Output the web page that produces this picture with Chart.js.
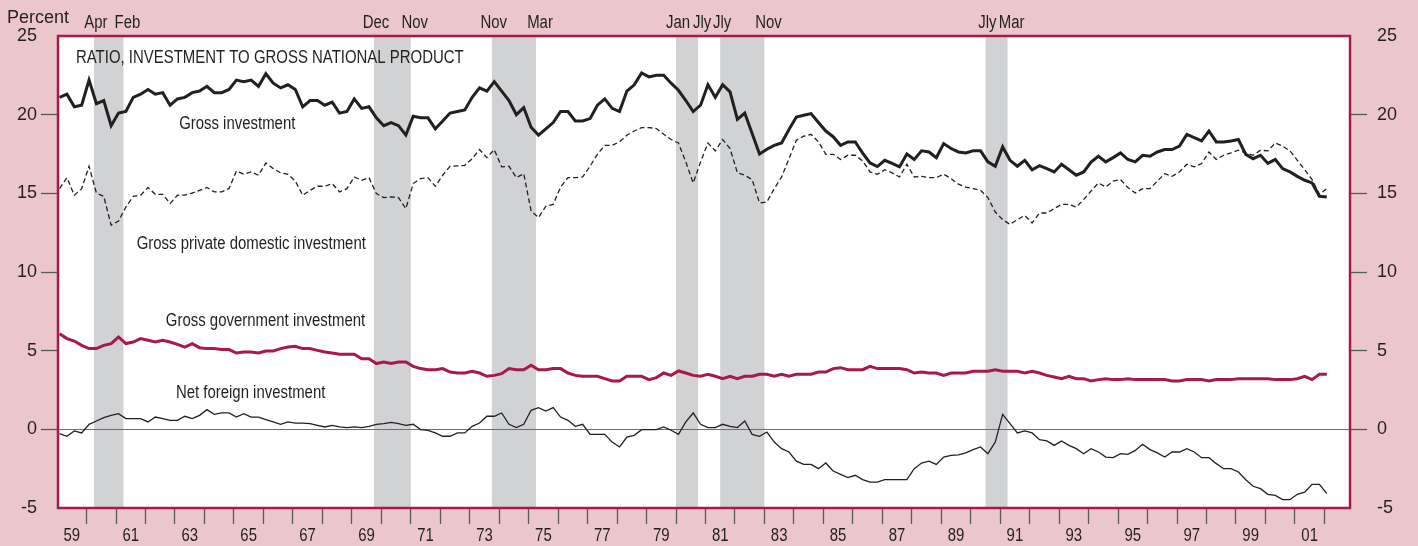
<!DOCTYPE html>
<html>
<head>
<meta charset="utf-8">
<title>Ratio, investment to gross national product</title>
<script src="https://cdn.jsdelivr.net/npm/chart.js@4.4.1/dist/chart.umd.min.js"></script>
<style>
  html, body { margin: 0; padding: 0; background: #ebc7cc; }
  #wrap { width: 1418px; height: 546px; }
</style>
</head>
<body>
<div id="wrap"><canvas id="chart" width="1418" height="546"></canvas></div>
<script>
// Quarterly ratios to GNP, percent, 1959:I through 2002:I
const startYear = 1959;

const grossInvestment = [
  21.1, 21.3, 20.5, 20.6, 22.2, 20.7, 20.9, 19.3, 20.1, 20.2,
  21.1, 21.3, 21.6, 21.3, 21.4, 20.6, 21.0, 21.1, 21.4, 21.5,
  21.8, 21.4, 21.4, 21.6, 22.2, 22.1, 22.2, 21.8, 22.6, 22.0,
  21.7, 21.9, 21.6, 20.5, 20.9, 20.9, 20.6, 20.8, 20.1, 20.2,
  21.0, 20.4, 20.5, 19.8, 19.3, 19.5, 19.3, 18.7, 19.9, 19.8,
  19.8, 19.1, 19.6, 20.1, 20.2, 20.3, 21.1, 21.7, 21.5, 22.1,
  21.5, 20.9, 20.0, 20.45, 19.2, 18.7, 19.1, 19.5, 20.2, 20.2,
  19.6, 19.6, 19.75, 20.6, 21.0, 20.4, 20.2, 21.5, 21.9, 22.65,
  22.4, 22.5, 22.5, 22.0, 21.55, 20.9, 20.2, 20.6, 21.9, 21.1,
  21.9, 21.45, 19.7, 20.1, 18.8, 17.5, 17.8, 18.05, 18.2, 19.05,
  19.85, 19.96, 20.07, 19.5, 18.96, 18.6, 18.05, 18.27, 18.27, 17.56,
  16.93, 16.7, 17.1, 16.9, 16.68, 17.5, 17.15, 17.7, 17.63, 17.27,
  18.16, 17.85, 17.63, 17.57, 17.7, 17.7, 17.0, 16.72, 17.95, 17.1,
  16.72, 17.1, 16.5, 16.76, 16.57, 16.36, 16.85, 16.5, 16.15, 16.36,
  16.99, 17.36, 17.0, 17.27, 17.57, 17.15, 17.0, 17.42, 17.36, 17.63,
  17.78, 17.78, 18.0, 18.75, 18.54, 18.33, 18.96, 18.27, 18.27, 18.33,
  18.42, 17.48, 17.2, 17.42, 16.9, 17.15, 16.57, 16.36, 16.08, 15.83,
  15.66, 14.81, 14.77
];

const grossPrivateDomestic = [
  15.3, 16.0, 14.88, 15.3, 16.72, 15.02, 14.81, 12.97, 13.24, 14.13,
  14.81, 14.88, 15.37, 14.94, 14.94, 14.35, 14.88, 14.88, 15.02, 15.19,
  15.37, 15.09, 15.09, 15.3, 16.42, 16.21, 16.36, 16.15, 16.93, 16.57,
  16.3, 16.21, 15.78, 14.88, 15.19, 15.45, 15.45, 15.62, 15.09, 15.3,
  16.04, 15.83, 16.0, 14.98, 14.73, 14.77, 14.73, 14.03, 15.62, 15.94,
  16.0, 15.45, 16.15, 16.72, 16.75, 16.78, 17.2, 17.78, 17.27, 17.78,
  16.68, 16.72, 16.0, 16.25, 13.88, 13.46, 14.18, 14.3, 15.4, 16.0,
  16.0, 16.04, 16.72, 17.48, 18.05, 18.05, 18.27, 18.69, 18.96, 19.18,
  19.18, 19.12, 18.75, 18.42, 18.2, 16.99, 15.66, 16.99, 18.2, 17.7,
  18.42, 17.85, 16.3, 16.15, 15.87, 14.39, 14.45, 15.3, 16.04, 17.2,
  18.37, 18.63, 18.75, 18.27, 17.48, 17.48, 17.15, 17.42, 17.42, 17.06,
  16.36, 16.21, 16.5, 16.3, 16.04, 16.85, 16.04, 16.08, 16.0, 16.0,
  16.21, 15.94, 15.58, 15.4, 15.3, 15.19, 14.73, 13.81, 13.33, 13.03,
  13.33, 13.6, 13.12, 13.75, 13.75, 14.03, 14.3, 14.3, 14.13, 14.6,
  15.15, 15.66, 15.4, 15.78, 15.87, 15.37, 15.02, 15.3, 15.3, 15.78,
  16.25, 16.08, 16.36, 16.85, 16.68, 16.89, 17.63, 17.15, 17.42, 17.57,
  17.74, 17.57, 17.42, 17.74, 17.7, 18.2, 18.0, 17.7, 17.1, 16.5,
  15.87, 14.94, 15.3
];

const grossGovernment = [
  6.08, 5.77, 5.61, 5.34, 5.13, 5.13, 5.34, 5.45, 5.87, 5.45,
  5.55, 5.77, 5.66, 5.55, 5.66, 5.55, 5.4, 5.23, 5.45, 5.19,
  5.13, 5.13, 5.07, 5.07, 4.85, 4.91, 4.91, 4.85, 4.98, 4.98,
  5.13, 5.23, 5.28, 5.13, 5.13, 5.02, 4.91, 4.85, 4.77, 4.77,
  4.77, 4.49, 4.49, 4.18, 4.28, 4.18, 4.28, 4.28, 4.0, 3.86,
  3.79, 3.79, 3.86, 3.64, 3.58, 3.58, 3.69, 3.58, 3.37, 3.43,
  3.54, 3.86, 3.79, 3.79, 4.07, 3.79, 3.79, 3.86, 3.86, 3.58,
  3.43, 3.37, 3.37, 3.37, 3.22, 3.07, 3.07, 3.37, 3.37, 3.37,
  3.16, 3.29, 3.58, 3.43, 3.71, 3.58, 3.43, 3.37, 3.5, 3.37,
  3.22, 3.37, 3.22, 3.37, 3.37, 3.5, 3.5, 3.37, 3.5, 3.37,
  3.5, 3.5, 3.5, 3.64, 3.64, 3.86, 3.92, 3.79, 3.79, 3.79,
  4.0, 3.86, 3.86, 3.86, 3.86, 3.79, 3.58, 3.64, 3.58, 3.58,
  3.43, 3.58, 3.58, 3.58, 3.69, 3.69, 3.69, 3.79, 3.69, 3.69,
  3.69, 3.58, 3.69, 3.58, 3.43, 3.33, 3.22, 3.37, 3.22, 3.22,
  3.07, 3.16, 3.22, 3.16, 3.16, 3.22, 3.16, 3.16, 3.16, 3.16,
  3.16, 3.07, 3.07, 3.16, 3.16, 3.16, 3.07, 3.16, 3.16, 3.16,
  3.22, 3.22, 3.22, 3.22, 3.22, 3.16, 3.16, 3.16, 3.22, 3.37,
  3.16, 3.5, 3.5
];

const netForeign = [
  -0.27, -0.44, -0.1, -0.23, 0.32, 0.53, 0.74, 0.89, 1.0, 0.68,
  0.68, 0.68, 0.47, 0.78, 0.68, 0.57, 0.57, 0.83, 0.68, 0.89,
  1.25, 0.95, 1.04, 1.04, 0.78, 1.0, 0.78, 0.78, 0.62, 0.47,
  0.32, 0.47, 0.4, 0.4, 0.36, 0.25, 0.15, 0.25, 0.15, 0.11,
  0.15, 0.11, 0.19, 0.32, 0.36, 0.44, 0.36, 0.25, 0.32, -0.02,
  -0.06, -0.23, -0.44, -0.44, -0.23, -0.23, 0.19, 0.4, 0.83, 0.83,
  1.04, 0.32, 0.11, 0.32, 1.21, 1.38, 1.16, 1.38, 0.78, 0.57,
  0.19, 0.32, -0.32, -0.32, -0.32, -0.81, -1.12, -0.49, -0.38, -0.02,
  -0.02, -0.02, 0.15, -0.06, -0.32, 0.47, 1.04, 0.32, 0.11, 0.11,
  0.32, 0.19, 0.11, 0.53, -0.32, -0.44, -0.17, -0.81, -1.23, -1.44,
  -2.02, -2.23, -2.23, -2.5, -2.14, -2.65, -2.86, -3.07, -2.92, -3.2,
  -3.35, -3.35, -3.2, -3.2, -3.2, -3.2, -2.5, -2.14, -2.02, -2.23,
  -1.76, -1.65, -1.62, -1.5, -1.29, -1.12, -1.55, -0.81, 0.95, 0.36,
  -0.23, -0.1, -0.23, -0.66, -0.74, -1.02, -0.74, -1.02, -1.23, -1.55,
  -1.23, -1.44, -1.76, -1.8, -1.55, -1.59, -1.34, -0.95, -1.29, -1.5,
  -1.76, -1.44, -1.44, -1.23, -1.44, -1.8, -1.8, -2.18, -2.5, -2.5,
  -2.71, -3.2, -3.62, -3.77, -4.13, -4.2, -4.47, -4.47, -4.13, -3.99,
  -3.5, -3.5, -4.09
];

// recessions: start of peak quarter, end of trough quarter, with month tags
const recessionStart = [1960.25, 1969.75, 1973.75, 1980.0, 1981.5, 1990.5];
const recessionEnd = [1961.25, 1971.0, 1975.25, 1980.75, 1983.0, 1991.25];
const peakMonths = ['Apr', 'Dec', 'Nov', 'Jan', 'Jly', 'Jly'];
const troughMonths = ['Feb', 'Nov', 'Mar', 'Jly', 'Nov', 'Mar'];

// axis ticks
const yTicks = [25, 20, 15, 10, 5, 0, -5];
const labelYears = [1959, 1961, 1963, 1965, 1967, 1969, 1971, 1973, 1975, 1977, 1979,
  1981, 1983, 1985, 1987, 1989, 1991, 1993, 1995, 1997, 1999, 2001];
const yearLabels = ['59', '61', '63', '65', '67', '69', '71', '73', '75', '77', '79',
  '81', '83', '85', '87', '89', '91', '93', '95', '97', '99', '01'];

// one tick per year, centred in the year; grid offset puts the marks on year boundaries
const yearCentres = [];
for (let y = 1959; y <= 2001; y++) yearCentres.push(y + 0.5);

// quarter dates
const quarters = grossInvestment.map((_, i) => startYear + i / 4 + 1 / 12);

const REGULAR = "'Liberation Sans', Arial, sans-serif";
const INK = '#231f20';
const TICK = '#58595b';
const MAROON = '#a8184b';
const CLEAR = 'rgba(0,0,0,0)';

// Helvetica-narrow look: regular sans squeezed horizontally
function narrowText(ctx, text, x, y, align) {
  ctx.save();
  ctx.translate(x, y);
  ctx.scale(0.83, 1);
  ctx.textAlign = align;
  ctx.fillText(text, 0, 0);
  ctx.restore();
}

const decorations = {
  id: 'decorations',
  beforeDraw(chart) {
    const { ctx, chartArea: a, scales } = chart;
    ctx.save();
    ctx.fillStyle = '#ebc7cc';
    ctx.fillRect(0, 0, chart.width, chart.height);
    ctx.fillStyle = '#ffffff';
    ctx.fillRect(a.left, a.top, a.right - a.left, a.bottom - a.top);
    // recession shading
    ctx.fillStyle = '#d1d2d4';
    recessionStart.forEach((s, i) => {
      const x0 = scales.x.getPixelForValue(s);
      const x1 = scales.x.getPixelForValue(recessionEnd[i]);
      ctx.fillRect(x0, a.top, x1 - x0, a.bottom - a.top);
    });
    ctx.restore();
  },
  afterDatasetsDraw(chart) {
    const { ctx, chartArea: a, scales } = chart;
    const x = scales.x, y = scales.y;
    ctx.save();
    // frame
    ctx.strokeStyle = MAROON;
    ctx.lineWidth = 2.5;
    ctx.strokeRect(a.left, a.top, a.right - a.left, a.bottom - a.top);

    ctx.fillStyle = INK;
    ctx.textBaseline = 'middle';
    ctx.font = '18px ' + REGULAR;

    // month tags above the frame
    recessionStart.forEach((s, i) => {
      narrowText(ctx, peakMonths[i], x.getPixelForValue(s) + 2, 23, 'center');
      narrowText(ctx, troughMonths[i], x.getPixelForValue(recessionEnd[i]) + 4, 23, 'center');
    });

    // year labels, centred in each odd year
    labelYears.forEach((yr, i) => {
      narrowText(ctx, yearLabels[i], x.getPixelForValue(yr + 0.5), 536, 'center');
    });

    // unit label
    ctx.textAlign = 'left';
    ctx.fillText('Percent', 7, 18);

    // title and series names
    narrowText(ctx, 'RATIO, INVESTMENT TO GROSS NATIONAL PRODUCT', x.getPixelForValue(1959.64), y.getPixelForValue(23.6), 'left');
    narrowText(ctx, 'Gross investment', x.getPixelForValue(1963.14), y.getPixelForValue(19.4), 'left');
    narrowText(ctx, 'Gross private domestic investment', x.getPixelForValue(1961.7), y.getPixelForValue(11.8), 'left');
    narrowText(ctx, 'Gross government investment', x.getPixelForValue(1962.69), y.getPixelForValue(6.88), 'left');
    narrowText(ctx, 'Net foreign investment', x.getPixelForValue(1963.03), y.getPixelForValue(2.33), 'left');
    ctx.restore();
  }
};

const yAxis = (position, width, padding) => ({
  position,
  min: -5,
  max: 25,
  afterBuildTicks: s => { s.ticks = yTicks.map(v => ({ value: v })); },
  afterFit: s => { s.width = width; },
  border: { display: false },
  grid: {
    drawOnChartArea: position === 'left',
    color: c => (c.tick && c.tick.value === 0 ? '#6d6e71' : CLEAR),
    lineWidth: 1,
    tickLength: 17,
    tickWidth: 1.3,
    tickColor: c => (c.tick && (c.tick.value === 25 || c.tick.value === -5) ? CLEAR : TICK)
  },
  ticks: {
    padding,
    color: INK,
    font: { family: REGULAR, size: 18 },
    callback: v => String(v)
  }
});

new Chart(document.getElementById('chart'), {
  type: 'line',
  data: {
    labels: quarters,
    datasets: [
      { label: 'Gross investment', data: grossInvestment, borderColor: INK, borderWidth: 3 },
      { label: 'Gross private domestic investment', data: grossPrivateDomestic, borderColor: INK, borderWidth: 1.3, borderDash: [5, 3] },
      { label: 'Gross government investment', data: grossGovernment, borderColor: MAROON, borderWidth: 3 },
      { label: 'Net foreign investment', data: netForeign, borderColor: INK, borderWidth: 1.3 }
    ]
  },
  options: {
    responsive: false,
    devicePixelRatio: 1,
    animation: false,
    layout: { padding: { top: 36, left: 0, right: 0, bottom: 0 } },
    elements: { point: { radius: 0 }, line: { tension: 0, fill: false } },
    plugins: { legend: { display: false }, tooltip: { enabled: false } },
    scales: {
      x: {
        type: 'linear',
        min: 1959.03,
        max: 2002.87,
        afterBuildTicks: s => { s.ticks = yearCentres.map(v => ({ value: v })); },
        afterFit: s => { s.height = 38; },
        border: { display: false },
        grid: {
          offset: true,
          drawOnChartArea: false,
          tickLength: 16,
          tickWidth: 1.3,
          tickColor: TICK
        },
        ticks: { display: false, autoSkip: false, maxRotation: 0 }
      },
      y: yAxis('left', 58, 4),
      y2: yAxis('right', 68, 10)
    }
  },
  plugins: [decorations]
});
</script>
</body>
</html>
